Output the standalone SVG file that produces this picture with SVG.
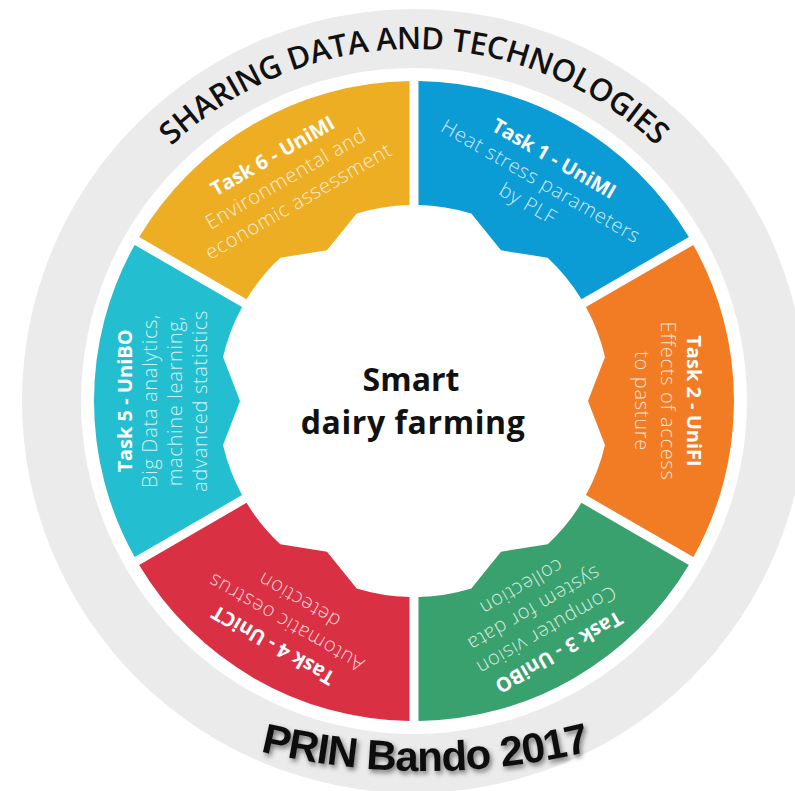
<svg xmlns="http://www.w3.org/2000/svg" xmlns:xlink="http://www.w3.org/1999/xlink" width="795" height="791" viewBox="0 0 795 791">
  <style>
    .title { font-family: "Open Sans", "Liberation Sans", sans-serif; font-weight: 700; font-size: 20px; fill: #ffffff; text-anchor: middle; }
    .desc { font-family: "Open Sans", "Liberation Sans", sans-serif; font-weight: 300; font-size: 20px; fill: #ffffff; fill-opacity: 0.8; text-anchor: middle; letter-spacing: 0.7px; }
    .ring-label { font-family: "Open Sans", "Liberation Sans", sans-serif; font-weight: 600; font-size: 31px; fill: #111111; letter-spacing: -0.3px; }
    .hub { font-family: "Open Sans", "Liberation Sans", sans-serif; font-weight: 700; font-size: 32px; fill: #111111; text-anchor: middle; }
    .call { font-family: "Liberation Sans", Arial, sans-serif; font-weight: 700; font-size: 42px; fill: #111111; letter-spacing: -1px; }
  </style>
  <defs>
    <!-- one 60-degree ring segment pointing along +x, with a toothed inner edge -->
    <path id="seg" d="M279.35,-156.09 A320,320 0 0 1 279.35,156.09 L171.95,94.08 A196,196 0 0 0 190.98,44.09 L174,0 L190.98,-44.09 A196,196 0 0 0 171.95,-94.08 Z"/>
    <path id="topArc" d="M62,401 A352,352 0 0 1 766,401"/>
    <path id="bottomArc" d="M-275,71 A700,700 0 0 0 1125,71"/>
    <filter id="shadow" x="-10%" y="-30%" width="120%" height="160%">
      <feDropShadow dx="2" dy="3" stdDeviation="2.5" flood-color="#000000" flood-opacity="0.5"/>
    </filter>
  </defs>

  <rect width="795" height="791" fill="#ffffff"/>

  <!-- outer grey band -->
  <g id="outer-band">
    <circle cx="414" cy="401" r="392" fill="#ebebeb"/>
    <circle cx="414" cy="401" r="333" fill="#ffffff"/>
    <text class="ring-label"><textPath href="#topArc" startOffset="50%" text-anchor="middle">SHARING DATA AND TECHNOLOGIES</textPath></text>
  </g>

  <g id="task1">
    <use href="#seg" fill="#0b9bd5" transform="translate(414 401) rotate(-60)"/>
    <g transform="translate(414 401) rotate(30)">
      <text class="title" x="0" y="-273">Task 1 - UniMI</text>
      <text class="desc" x="0" y="-247">Heat stress parameters</text>
      <text class="desc" x="0" y="-221">by PLF</text>
    </g>
  </g>

  <g id="task2">
    <use href="#seg" fill="#f27c23" transform="translate(414 401) rotate(0)"/>
    <g transform="translate(414 401) rotate(90)">
      <text class="title" x="0" y="-273">Task 2 - UniFI</text>
      <text class="desc" x="0" y="-247">Effects of access</text>
      <text class="desc" x="0" y="-221">to pasture</text>
    </g>
  </g>

  <g id="task3">
    <use href="#seg" fill="#39a16e" transform="translate(414 401) rotate(60)"/>
    <g transform="translate(414 401) rotate(150)">
      <text class="title" x="0" y="-283">Task 3 - UniBO</text>
      <text class="desc" x="0" y="-258">Computer vision</text>
      <text class="desc" x="0" y="-233">system for data</text>
      <text class="desc" x="0" y="-208">collection</text>
    </g>
  </g>

  <g id="task4">
    <use href="#seg" fill="#da3044" transform="translate(414 401) rotate(120)"/>
    <g transform="translate(414 401) rotate(210)">
      <text class="title" x="0" y="-275">Task 4 - UniCT</text>
      <text class="desc" x="0" y="-249">Automatic oestrus</text>
      <text class="desc" x="0" y="-223">detection</text>
    </g>
  </g>

  <g id="task5">
    <use href="#seg" fill="#23becf" transform="translate(414 401) rotate(180)"/>
    <g transform="translate(414 401) rotate(270)">
      <text class="title" x="0" y="-282">Task 5 - UniBO</text>
      <text class="desc" x="0" y="-257">Big Data analytics,</text>
      <text class="desc" x="0" y="-232">machine learning,</text>
      <text class="desc" x="0" y="-207">advanced statistics</text>
    </g>
  </g>

  <g id="task6">
    <use href="#seg" fill="#eeae24" transform="translate(414 401) rotate(240)"/>
    <g transform="translate(414 401) rotate(330)">
      <text class="title" x="0" y="-276">Task 6 - UniMI</text>
      <text class="desc" x="0" y="-250">Environmental and</text>
      <text class="desc" x="0" y="-224">economic assessment</text>
    </g>
  </g>

  <g id="hub">
    <text class="hub" x="411" y="391">Smart</text>
    <text class="hub" x="413" y="434" letter-spacing="0.6">dairy farming</text>
  </g>

  <!-- no connectors in this figure -->
  <g id="connectors"/>

  <g id="call-label" filter="url(#shadow)">
    <text class="call"><textPath href="#bottomArc" startOffset="50%" text-anchor="middle">PRIN Bando 2017</textPath></text>
  </g>
</svg>
